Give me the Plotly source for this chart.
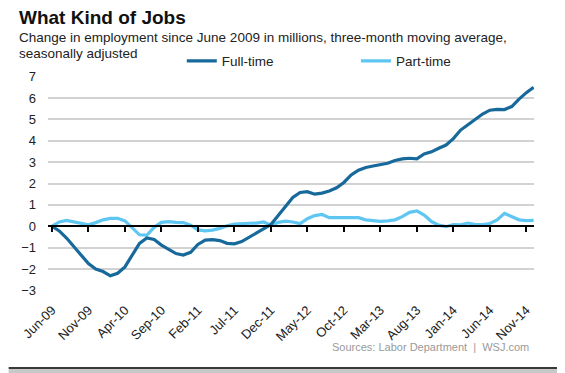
import pandas as pd
import plotly.graph_objects as go

# ---- data (millions, change since June 2009, 3-month moving average) ----
months = list(pd.date_range("2009-06-01", periods=67, freq="MS").strftime("%b-%y"))
full_time = [0, -0.22, -0.55, -0.95, -1.4, -1.75, -2.0, -2.12, -2.32, -2.2,
             -1.9, -1.35, -0.8, -0.55, -0.62, -0.88, -1.1, -1.28, -1.35, -1.22,
             -0.85, -0.65, -0.63, -0.67, -0.8, -0.82, -0.72, -0.52, -0.3, -0.1,
             0.08, 0.5, 0.9, 1.35, 1.58, 1.62, 1.5, 1.55, 1.65, 1.8,
             2.05, 2.4, 2.62, 2.75, 2.82, 2.88, 2.95, 3.08, 3.15, 3.18,
             3.15, 3.38, 3.48, 3.65, 3.8, 4.1, 4.5, 4.75, 5.0, 5.25,
             5.43, 5.47, 5.46, 5.6, 5.95, 6.25, 6.5]
part_time = [0, 0.2, 0.27, 0.2, 0.12, 0.07, 0.17, 0.3, 0.37, 0.37,
             0.25, -0.1, -0.4, -0.42, -0.05, 0.18, 0.22, 0.18, 0.17, 0.05,
             -0.17, -0.22, -0.18, -0.1, 0.02, 0.1, 0.13, 0.14, 0.15, 0.2,
             0.05, 0.18, 0.24, 0.2, 0.12, 0.35, 0.5, 0.55, 0.4, 0.4,
             0.42, 0.43, 0.4, 0.3, 0.25, 0.23, 0.25, 0.3, 0.45, 0.65,
             0.72, 0.52, 0.22, 0.05, -0.02, 0.08, 0.07, 0.15, 0.08, 0.08,
             0.13, 0.3, 0.6, 0.45, 0.3, 0.26, 0.27]
tick_labels = ["Jun-09", "Nov-09", "Apr-10", "Sep-10", "Feb-11", "Jul-11", "Dec-11",
               "May-12", "Oct-12", "Mar-13", "Aug-13", "Jan-14", "Jun-14", "Nov-14"]
y_ticks = [7, 6, 5, 4, 3, 2, 1, 0, -1, -2, -3]

# ---- layout geometry (page body has an 8px margin, so work in shifted px) ----
OFF = 8
W, H = 565 - OFF, 373 - OFF
L = 40 - OFF
R = W - (534 - OFF)
T = 75.9 - OFF
B = H - (290.64 - OFF)
PW, PH = W - L - R, H - T - B
YMIN, YMAX = -3.03, 7.03

def px_x(p):
    return ((p - OFF) - L) / PW

def px_y(p):
    return ((H - B) - (p - OFF)) / PH

idx = list(range(len(months)))
tick_idx = [months.index(t) for t in tick_labels]
FONT = "Arial, Liberation Sans, sans-serif"
DARK = "#17699b"
LIGHT = "#5fc6f2"

fig = go.Figure()
fig.add_trace(go.Scatter(x=idx, y=part_time, name="Part-time", mode="lines",
                         line=dict(color=LIGHT, width=3.2), legend="legend2",
                         xaxis="x", yaxis="y"))
fig.add_trace(go.Scatter(x=idx, y=full_time, name="Full-time", mode="lines",
                         line=dict(color=DARK, width=3.2), legend="legend",
                         xaxis="x2", yaxis="y"))

xr = [-0.54, 66.05]
fig.update_layout(
    width=W, height=H,
    margin=dict(l=L, r=R, t=T, b=B, pad=0),
    paper_bgcolor="white", plot_bgcolor="white",
    font=dict(family=FONT, color="#222222"),
    xaxis=dict(range=xr, tickvals=tick_idx, ticktext=tick_labels, tickangle=-45,
               showgrid=False, zeroline=False, showline=False, ticks="",
               tickfont=dict(size=13, color="#222222"), ticklabelstandoff=8),
    xaxis2=dict(range=xr, overlaying="x", anchor="free",
                position=(0 - YMIN) / (YMAX - YMIN), side="bottom",
                tickvals=tick_idx, showticklabels=False, showgrid=False,
                zeroline=False, showline=True, linecolor="black", linewidth=2,
                ticks="outside", ticklen=5, tickwidth=1.5, tickcolor="black"),
    yaxis=dict(range=[YMIN, YMAX], tickvals=y_ticks, showgrid=True,
               gridcolor="#d2d2d2", gridwidth=1.5, zeroline=False, showline=False,
               ticks="", tickfont=dict(size=13, color="#222222"), ticklabelstandoff=11),
    legend=dict(x=px_x(176), y=px_y(61), xanchor="left", yanchor="middle",
                orientation="h", font=dict(size=13.5, color="#222222"),
                bgcolor="rgba(0,0,0,0)", itemwidth=30),
    legend2=dict(x=px_x(353), y=px_y(61), xanchor="left", yanchor="middle",
                 orientation="h", font=dict(size=13.5, color="#222222"),
                 bgcolor="rgba(0,0,0,0)", itemwidth=30),
    showlegend=True,
)

annotations = [
    dict(text="<b>What Kind of Jobs</b>", x=px_x(8), y=px_y(17), xanchor="left",
         yanchor="middle", font=dict(size=19, color="#111111")),
    dict(text="Change in employment since June 2009 in millions, three-month moving average,",
         x=px_x(8), y=px_y(37.5), xanchor="left", yanchor="middle",
         font=dict(size=13.5, color="#222222")),
    dict(text="seasonally adjusted", x=px_x(8), y=px_y(53), xanchor="left",
         yanchor="middle", font=dict(size=13.5, color="#222222")),
    dict(text="Sources: Labor Department  |  WSJ.com", x=px_x(531), y=px_y(347),
         xanchor="right", yanchor="middle", font=dict(size=11, color="#9a9a9a")),
]
for a in annotations:
    a.update(xref="paper", yref="paper", showarrow=False)
fig.update_layout(annotations=annotations)

# picture frame (right and bottom edges with a soft shadow)
shapes = [
    dict(type="rect", x0=px_x(562.5), x1=px_x(566), y0=px_y(0), y1=px_y(373),
         fillcolor="#c8c8c8", line=dict(width=0)),
    dict(type="rect", x0=px_x(0), x1=px_x(566), y0=px_y(368.5), y1=px_y(374),
         fillcolor="#c8c8c8", line=dict(width=0)),
    dict(type="line", x0=px_x(561.5), x1=px_x(561.5), y0=px_y(0), y1=px_y(368),
         line=dict(color="#3a3a3a", width=2)),
    dict(type="line", x0=px_x(0), x1=px_x(562.5), y0=px_y(367.5), y1=px_y(367.5),
         line=dict(color="#3a3a3a", width=2)),
]
for s in shapes:
    s.update(xref="paper", yref="paper", layer="above")
fig.update_layout(shapes=shapes)

fig.write_html("out.html")
